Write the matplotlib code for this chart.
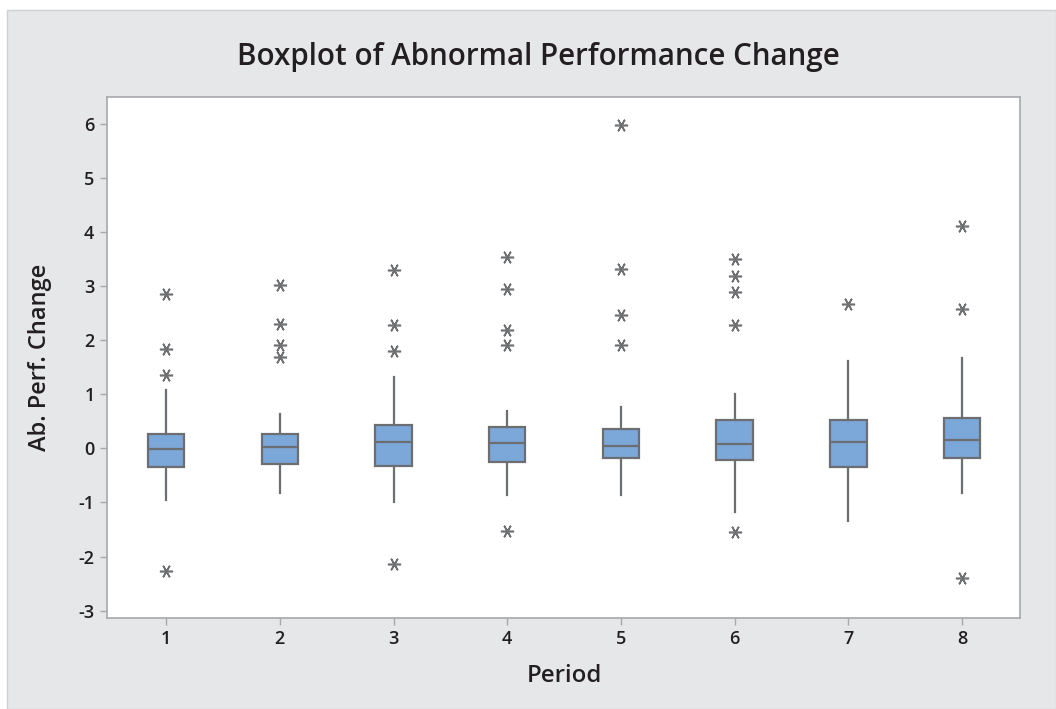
import matplotlib
matplotlib.use("Agg")
import matplotlib.pyplot as plt
from matplotlib.patches import Rectangle

# ---- data ----
periods = [1, 2, 3, 4, 5, 6, 7, 8]
q1 = [-0.35, -0.29, -0.32, -0.25, -0.18, -0.21, -0.35, -0.18]
med = [-0.02, 0.02, 0.12, 0.09, 0.05, 0.08, 0.12, 0.16]
q3 = [0.27, 0.27, 0.43, 0.39, 0.35, 0.53, 0.53, 0.56]
whislo = [-0.96, -0.83, -1.00, -0.87, -0.87, -1.17, -1.34, -0.82]
whishi = [1.07, 0.63, 1.31, 0.69, 0.76, 1.00, 1.61, 1.67]
fliers = [
    [2.85, 1.83, 1.35, -2.27],
    [3.01, 2.29, 1.90, 1.68],
    [3.29, 2.27, 1.79, -2.13],
    [3.53, 2.94, 2.19, 1.91, -1.52],
    [5.97, 3.32, 2.47, 1.91],
    [3.49, 3.19, 2.88, 2.27, -1.55],
    [2.67],
    [4.11, 2.58, -2.40],
]
yticks = [-3, -2, -1, 0, 1, 2, 3, 4, 5, 6]

title = "Boxplot of Abnormal Performance Change"
xlabel = "Period"
ylabel = "Ab. Perf. Change"

# ---- styling ----
FONT = ["Open Sans", "DejaVu Sans"]
plt.rcParams["font.family"] = FONT
bg = "#e6e7e9"
edge = "#6d6e71"
fill = "#7ba7d9"
spine = "#a7a8ab"

W, H = 1056, 709
fig = plt.figure(figsize=(W / 100, H / 100), dpi=100)
fig.patch.set_facecolor("white")
fig.patches.append(Rectangle((7 / W, 0), 1 - 7 / W, 1 - 10 / H, transform=fig.transFigure,
                             facecolor=bg, edgecolor="#cfd0d2", linewidth=1.0, zorder=-10))

ax = fig.add_axes([107 / W, 1 - 618 / H, (1020 - 107) / W, (618 - 97) / H])
ax.set_zorder(5)
ax.set_facecolor("white")

stats = []
for i in range(len(periods)):
    stats.append(dict(q1=q1[i], med=med[i], q3=q3[i], whislo=whislo[i], whishi=whishi[i],
                      fliers=fliers[i], label=str(periods[i])))

ax.bxp(stats, positions=periods, widths=0.32, patch_artist=True, showcaps=False,
       boxprops=dict(facecolor=fill, edgecolor=edge, linewidth=1.6),
       medianprops=dict(color=edge, linewidth=1.6),
       whiskerprops=dict(color=edge, linewidth=1.6),
       flierprops=dict(marker=(6, 2, 90), markersize=9.5, markeredgewidth=1.15,
                       markeredgecolor="#6f7072", markerfacecolor="none", linestyle="none"))

ax.set_xlim(0.48, 8.51)
ax.set_ylim(-3.135, 6.49)
ax.set_yticks(yticks)
ax.set_yticklabels([str(t) for t in yticks])
ax.set_xticks(periods)
ax.set_xticklabels([str(p) for p in periods])

for s in ax.spines.values():
    s.set_color(spine)
    s.set_linewidth(1.2)
ax.tick_params(axis="both", direction="out", length=5, width=1, color=spine,
               labelsize=13, labelcolor="#231f20", pad=4)
for lab in ax.get_xticklabels() + ax.get_yticklabels():
    lab.set_fontweight("semibold")

fig.text(538 / W, 1 - 57 / H, title, ha="center", va="center", fontsize=21.3,
         fontweight="semibold", color="#231f20", family=FONT)
fig.text(564 / W, 1 - 676 / H, xlabel, ha="center", va="center", fontsize=17.3,
         fontweight="semibold", color="#231f20", family=FONT)
fig.text(40 / W, 1 - 357 / H, ylabel, ha="center", va="center", rotation=90, fontsize=17,
         fontweight="semibold", color="#231f20", family=FONT)

fig.savefig("out.png", dpi=100, facecolor=fig.get_facecolor())
